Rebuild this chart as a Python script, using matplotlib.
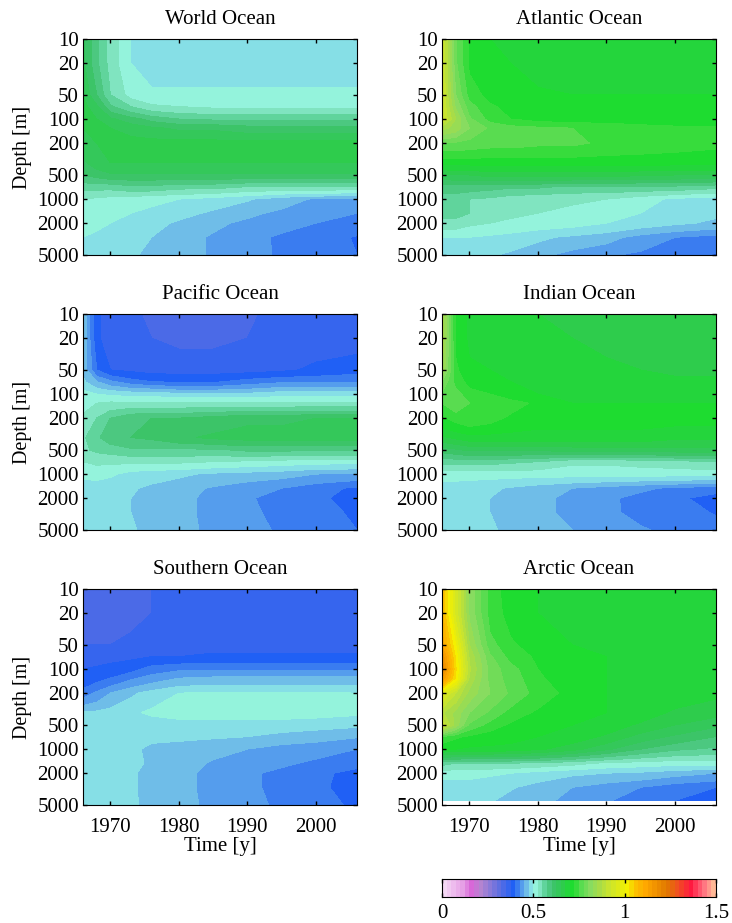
"""Ocean panels: depth-time sections on a log depth axis, shared discrete colour scale."""
import matplotlib
matplotlib.use("Agg")
import matplotlib.pyplot as plt  # noqa: E402
import numpy as np
from matplotlib.colors import BoundaryNorm, LinearSegmentedColormap

plt.rcParams["font.family"] = ["Liberation Serif", "DejaVu Serif"]

TIMES = [1966, 1968, 1970, 1973, 1976, 1980, 1985, 1990, 1995, 2000, 2006]
DEPTHS = [10, 20, 50, 70, 100, 130, 200, 350, 500, 700, 1000, 1500, 2000, 3000, 5000]
ARCTIC_DEPTHS = [10, 20, 50, 70, 100, 130, 200, 350, 500, 700, 1000, 1500, 2000, 3000, 4400]
DEPTH_TICKS = [10, 20, 50, 100, 200, 500, 1000, 2000, 5000]
TIME_TICKS = [1970, 1980, 1990, 2000]

world = [
    [.63, .58, .54, .50, .49, .49, .49, .49, .49, .49, .49],
    [.63, .58, .54, .50, .49, .49, .49, .49, .49, .49, .49],
    [.65, .60, .55, .515, .505, .505, .505, .505, .505, .505, .505],
    [.66, .63, .58, .55, .53, .525, .52, .52, .52, .52, .52],
    [.66, .65, .63, .61, .59, .575, .57, .57, .57, .57, .57],
    [.65, .66, .65, .64, .63, .62, .62, .61, .61, .61, .61],
    [.63, .65, .66, .66, .66, .66, .66, .66, .66, .66, .66],
    [.62, .64, .65, .65, .65, .65, .65, .65, .65, .65, .65],
    [.60, .61, .62, .62, .62, .62, .62, .62, .62, .62, .62],
    [.56, .56, .56, .57, .57, .56, .56, .55, .55, .55, .55],
    [.525, .52, .515, .51, .505, .50, .49, .478, .46, .447, .44],
    [.52, .515, .51, .50, .495, .485, .47, .455, .445, .435, .425],
    [.51, .505, .50, .49, .485, .47, .455, .445, .435, .425, .412],
    [.50, .495, .49, .482, .475, .46, .447, .435, .42, .41, .398],
    [.495, .49, .485, .478, .47, .46, .447, .43, .423, .412, .40],
]
atlantic = [
    [.93, .78, .72, .70, .695, .69, .69, .69, .69, .69, .69],
    [.93, .78, .72, .705, .70, .69, .69, .69, .69, .69, .69],
    [.93, .80, .74, .715, .71, .705, .70, .70, .70, .70, .70],
    [.93, .82, .76, .73, .715, .71, .71, .71, .71, .71, .71],
    [.93, .85, .78, .74, .725, .715, .71, .71, .71, .71, .71],
    [.86, .84, .80, .77, .76, .755, .75, .745, .735, .73, .73],
    [.77, .77, .765, .76, .76, .755, .755, .745, .74, .735, .73],
    [.71, .71, .71, .71, .71, .71, .71, .71, .71, .71, .71],
    [.645, .65, .65, .66, .66, .66, .66, .66, .655, .65, .65],
    [.585, .59, .59, .585, .58, .58, .57, .57, .57, .57, .56],
    [.565, .56, .55, .545, .535, .53, .528, .525, .51, .495, .485],
    [.56, .56, .55, .54, .53, .525, .52, .51, .50, .49, .48],
    [.54, .54, .53, .525, .52, .515, .51, .50, .49, .48, .47],
    [.50, .50, .50, .495, .49, .48, .47, .46, .44, .425, .415],
    [.48, .48, .48, .478, .47, .458, .44, .428, .42, .41, .398],
]
pacific = [
    [.47, .38, .36, .355, .345, .34, .34, .345, .36, .365, .365],
    [.47, .38, .36, .355, .35, .345, .345, .35, .36, .365, .365],
    [.47, .40, .375, .37, .365, .365, .365, .365, .37, .38, .39],
    [.48, .45, .43, .41, .40, .395, .395, .41, .42, .42, .42],
    [.51, .50, .495, .49, .49, .48, .48, .48, .49, .49, .49],
    [.515, .525, .53, .53, .53, .53, .53, .53, .53, .53, .53],
    [.53, .55, .575, .595, .60, .60, .61, .62, .62, .625, .625],
    [.545, .57, .59, .60, .605, .62, .63, .635, .635, .635, .635],
    [.545, .555, .56, .57, .57, .57, .57, .58, .58, .58, .58],
    [.525, .53, .53, .53, .53, .53, .525, .52, .515, .51, .51],
    [.505, .51, .505, .49, .485, .48, .47, .465, .46, .45, .445],
    [.49, .485, .48, .478, .47, .46, .447, .435, .425, .41, .395],
    [.485, .48, .48, .475, .465, .455, .445, .428, .415, .405, .39],
    [.485, .48, .48, .475, .465, .455, .445, .43, .418, .41, .395],
    [.485, .48, .48, .477, .47, .457, .445, .432, .422, .41, .40],
]
indian = [
    [.87, .72, .695, .685, .68, .675, .67, .67, .665, .66, .66],
    [.87, .72, .695, .69, .685, .68, .675, .67, .67, .665, .665],
    [.85, .73, .705, .70, .69, .69, .68, .68, .675, .67, .67],
    [.80, .74, .715, .705, .70, .69, .69, .685, .68, .68, .68],
    [.77, .76, .735, .725, .71, .70, .695, .695, .69, .69, .69],
    [.75, .77, .75, .74, .735, .72, .70, .70, .70, .70, .70],
    [.72, .735, .745, .735, .72, .71, .71, .71, .71, .71, .71],
    [.67, .68, .69, .69, .69, .69, .69, .69, .69, .68, .68],
    [.61, .62, .63, .63, .63, .63, .635, .635, .64, .64, .64],
    [.56, .56, .56, .56, .555, .55, .53, .53, .535, .54, .55],
    [.51, .51, .51, .51, .51, .51, .51, .51, .51, .51, .51],
    [.49, .488, .485, .48, .472, .462, .45, .44, .43, .42, .41],
    [.487, .485, .48, .475, .465, .455, .445, .43, .417, .405, .39],
    [.487, .485, .48, .475, .465, .455, .445, .43, .418, .41, .398],
    [.487, .485, .482, .478, .47, .46, .45, .44, .428, .418, .41],
]
southern = [
    [.345, .34, .34, .345, .35, .355, .36, .36, .36, .36, .36],
    [.345, .34, .34, .345, .35, .355, .36, .36, .36, .36, .36],
    [.35, .35, .35, .355, .36, .36, .365, .365, .365, .365, .365],
    [.36, .36, .365, .37, .375, .375, .38, .38, .38, .38, .38],
    [.375, .38, .385, .39, .41, .42, .42, .42, .42, .42, .42],
    [.38, .39, .40, .42, .435, .45, .455, .455, .455, .455, .455],
    [.41, .43, .45, .47, .485, .50, .503, .503, .503, .503, .50],
    [.48, .48, .485, .495, .505, .51, .51, .51, .51, .51, .505],
    [.49, .485, .485, .485, .485, .49, .49, .49, .49, .485, .48],
    [.49, .485, .485, .485, .48, .48, .478, .475, .465, .46, .452],
    [.49, .488, .485, .48, .47, .465, .458, .45, .44, .435, .425],
    [.49, .485, .485, .48, .472, .462, .447, .44, .43, .42, .41],
    [.49, .485, .485, .478, .468, .455, .445, .43, .418, .408, .39],
    [.49, .485, .485, .478, .468, .455, .445, .43, .418, .405, .39],
    [.49, .485, .485, .478, .47, .457, .445, .433, .42, .41, .395],
]
arctic = [
    [1.08, .94, .82, .74, .71, .70, .70, .70, .70, .69, .69],
    [1.08, .94, .82, .74, .715, .70, .70, .70, .70, .69, .69],
    [1.12, 1.00, .85, .76, .73, .71, .70, .70, .70, .70, .70],
    [1.17, 1.02, .87, .78, .74, .72, .705, .70, .70, .70, .70],
    [1.20, 1.03, .88, .79, .76, .725, .705, .70, .70, .70, .70],
    [1.15, 1.02, .87, .79, .765, .73, .705, .70, .70, .70, .70],
    [.96, .90, .84, .80, .77, .74, .715, .70, .70, .69, .68],
    [.88, .84, .80, .77, .74, .72, .705, .70, .69, .67, .66],
    [.92, .84, .77, .74, .72, .71, .70, .69, .67, .65, .63],
    [.75, .73, .72, .71, .71, .70, .69, .67, .64, .62, .60],
    [.70, .70, .695, .695, .69, .68, .66, .63, .60, .58, .57],
    [.56, .55, .55, .55, .55, .545, .535, .52, .515, .51, .51],
    [.51, .51, .51, .505, .50, .49, .48, .475, .47, .46, .45],
    [.485, .485, .485, .48, .478, .465, .45, .437, .425, .41, .40],
    [.485, .485, .482, .478, .465, .46, .44, .428, .41, .40, .385],
]

# colour anchors
CBAR_VALUES = [0, .1, .15, .2, .3, .375, .4, .425, .45, .475, .5, .525, .55, .575, .6,
               .625, .65, .675, .7, .725, .75, .8, .85, .9, 1.0, 1.05, 1.1, 1.22, 1.28,
               1.35, 1.42, 1.5]
CBAR_COLORS = ["#f5d8f5", "#e6a0e6", "#d868d8", "#b484d0", "#5f6fe0", "#2060f5", "#3a7cf0",
               "#559ded", "#6fbde8", "#86dfe6", "#94f3dc", "#80e4c0", "#60d49c", "#4cc880",
               "#3cc468", "#34c85a", "#2ecc4c", "#24d53c", "#1edc30", "#38dc3c", "#58dc50",
               "#88dc60", "#a8dc48", "#c8e430", "#f4f000", "#fcc000", "#ffa800", "#e07800",
               "#f05020", "#ff1840", "#ff7080", "#ffd8a0"]
N_BANDS = 60
FIG_W, FIG_H = 732, 923


def axes_px(fig, x0, y0, x1, y1):
    return fig.add_axes([x0 / FIG_W, 1 - y1 / FIG_H, (x1 - x0) / FIG_W, (y1 - y0) / FIG_H])


def main():
    fig = plt.figure(figsize=(FIG_W / 100, FIG_H / 100), dpi=100)
    edges = np.linspace(0, 1.5, N_BANDS + 1)
    cmap = LinearSegmentedColormap.from_list(
        "ocean", [(v / 1.5, c) for v, c in zip(CBAR_VALUES, CBAR_COLORS)], N=1024)
    # each band takes the colour at its lower edge
    band_cmap = matplotlib.colors.ListedColormap(cmap(edges[:-1] / 1.5))
    norm = BoundaryNorm(edges, N_BANDS)

    panels = [
        ("World Ocean", world, DEPTHS, 83, 39),
        ("Atlantic Ocean", atlantic, DEPTHS, 442, 39),
        ("Pacific Ocean", pacific, DEPTHS, 83, 314),
        ("Indian Ocean", indian, DEPTHS, 442, 314),
        ("Southern Ocean", southern, DEPTHS, 83, 589),
        ("Arctic Ocean", arctic, ARCTIC_DEPTHS, 442, 589),
    ]
    for i, (name, vals, depths, x0, y0) in enumerate(panels):
        ax = axes_px(fig, x0, y0, x0 + 274, y0 + 216)
        ax.contourf(TIMES, depths, np.array(vals), levels=edges, cmap=band_cmap, norm=norm)
        ax.set_yscale("log")
        ax.set_ylim(5000, 10)
        ax.set_xlim(1966, 2006)
        ax.set_yticks(DEPTH_TICKS, [str(d) for d in DEPTH_TICKS])
        ax.minorticks_off()
        ax.set_xticks(TIME_TICKS, [str(t) for t in TIME_TICKS] if i >= 4 else [])
        ax.tick_params(direction="in", top=True, right=True, length=3, width=1,
                       labelsize=15, pad=3)
        ax.tick_params(axis="x", pad=9)
        ax.set_title(name, fontsize=15, pad=11)
        if i % 2 == 0:
            ax.set_ylabel("Depth [m]", fontsize=14.5, labelpad=4)
        if i >= 4:
            ax.set_xlabel("Time [y]", fontsize=15, labelpad=0)

    cax = axes_px(fig, 442, 879, 716, 897)
    cax.pcolormesh(edges, [0, 1], edges[:-1].reshape(1, -1) + 0.0125, cmap=band_cmap, norm=norm)
    cax.set_yticks([])
    cax.set_xticks([0, .5, 1, 1.5], ["0", "0.5", "1", "1.5"])
    cax.tick_params(direction="in", top=True, length=3, width=1, labelsize=15, pad=5)

    fig.savefig("out.png", dpi=100)


if __name__ == "__main__":
    main()
